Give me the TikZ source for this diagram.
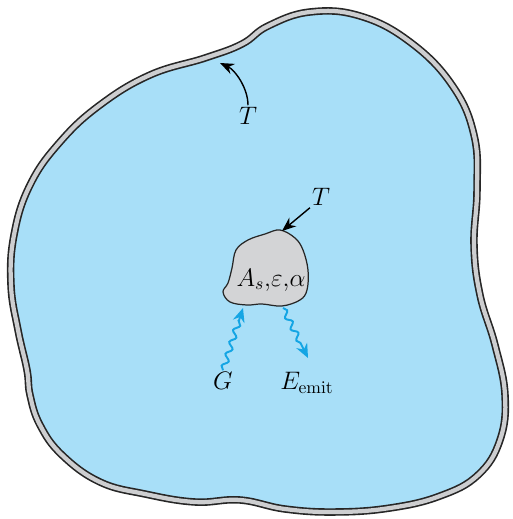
\documentclass[tikz,border=0pt]{standalone}
\usetikzlibrary{arrows.meta,decorations.pathmorphing}
\definecolor{cavityblue}{RGB}{168,223,248}
\definecolor{wallgray}{RGB}{205,206,208}
\definecolor{bodygray}{RGB}{211,212,214}
\definecolor{rayblue}{RGB}{20,165,228}
\tikzset{
  wallline/.style={line width=0.15cm, black!85},
  wallcore/.style={line width=0.085cm, wallgray},
  pointer/.style={thick, -{Stealth[length=2.8mm,width=2.2mm]}},
  ray/.style={rayblue, line width=1.1pt, -{Stealth[length=2.8mm,width=2.4mm]},
    decorate, decoration={snake, amplitude=0.055cm, segment length=0.25cm, post length=2.2mm}}
}
\begin{document}
\begin{tikzpicture}[x=0.02cm,y=-0.02cm,every node/.style={font=\Large, inner sep=1pt}]
    \useasboundingbox (0,0) rectangle (512,519);

    % enclosure wall at temperature T
    \def\wallpath{plot[smooth cycle, tension=0.7] coordinates {
      (268,26) (310,12) (360,16) (410,42) (452,85) (474,135) (477,190)
      (474,245) (480,295) (495,345) (505,395) (500,440) (478,475) (440,496)
      (390,508) (335,512) (285,509) (240,500) (195,502) (145,494) (100,482)
      (62,455) (40,425) (30,395) (27,370) (18,330) (11,285) (14,235)
      (30,185) (60,142) (100,105) (150,75) (205,58) (242,44)}}
    \fill[cavityblue] \wallpath;
    \draw[wallline] \wallpath;
    \draw[wallcore] \wallpath;

    % small body
    \filldraw[fill=bodygray, draw=black!85, line width=0.7pt]
      plot[smooth cycle, tension=0.6] coordinates {
      (280,230) (295,238) (303,250) (308,270) (307,290) (300,300) (282,306)
      (262,304) (247,305) (230,302) (223,292) (228,283) (232,268) (236,250)
      (248,240) (265,234)};
    \node (props) at (271,280) {$A_s{,}\varepsilon{,}\alpha$};

    % temperature labels
    \node (Twall) at (248,116) {$T$};
    \coordinate (wallpt) at (220,63);
    \draw[pointer] (Twall.north) .. controls (248,88) and (235,70) .. (wallpt);

    \node (Tbody) at (321,197) {$T$};
    \coordinate (bodytop) at (282,231);
    \draw[pointer] (Tbody.south west) -- (bodytop);

    % irradiation and emission
    \node (G) at (223,381) {$G$};
    \coordinate (bodyin) at (243,308);
    \draw[ray] (G.north) -- (bodyin);

    \node (Eemit) at (307,383) {$E_{\mathrm{emit}}$};
    \coordinate (bodyout) at (283,308);
    \coordinate (emitend) at (308,358);
    \draw[ray] (bodyout) -- (emitend);
  \end{tikzpicture}
\end{document}
